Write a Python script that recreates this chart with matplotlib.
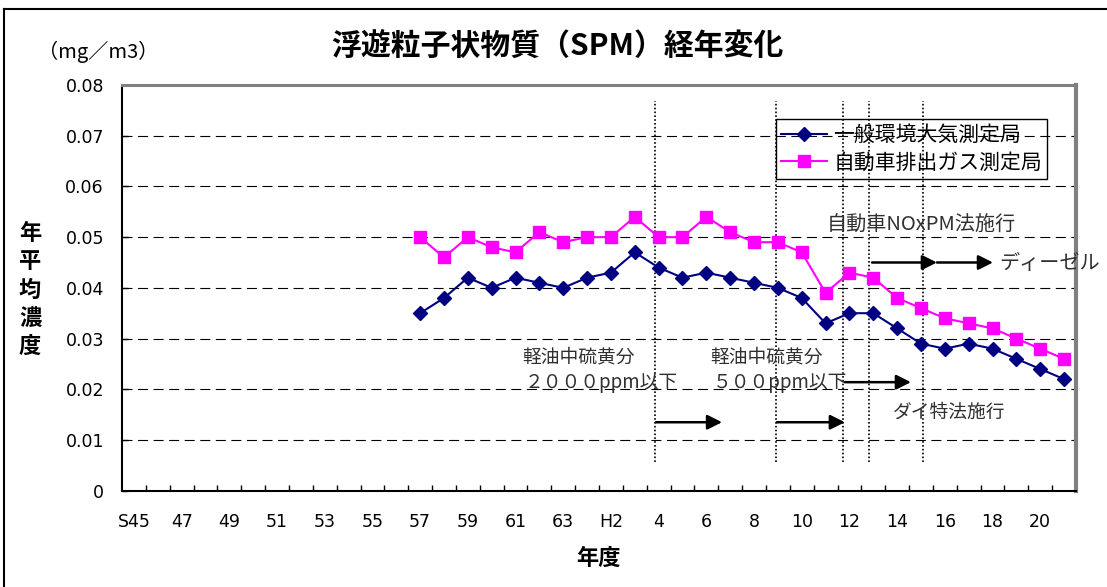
import numpy as np
import matplotlib
matplotlib.use('Agg')
import matplotlib.pyplot as plt
from matplotlib.lines import Line2D

plt.rcParams['font.family'] = ['Noto Sans CJK JP', 'DejaVu Sans']

# 年度 S45..S63, H1..H21
years = ['S%d' % y for y in range(45, 64)] + ['H%d' % y for y in range(1, 22)]
tick_labels = ['S45', '47', '49', '51', '53', '55', '57', '59', '61', '63',
               'H2', '4', '6', '8', '10', '12', '14', '16', '18', '20']

# 一般環境大気測定局 (S57 から)
ippan = [0.035, 0.038, 0.042, 0.040, 0.042, 0.041, 0.040, 0.042, 0.043, 0.047,
         0.044, 0.042, 0.043, 0.042, 0.041, 0.040, 0.038, 0.033, 0.035, 0.035,
         0.032, 0.029, 0.028, 0.029, 0.028, 0.026, 0.024, 0.022]
# 自動車排出ガス測定局 (S57 から)
jidosha = [0.050, 0.046, 0.050, 0.048, 0.047, 0.051, 0.049, 0.050, 0.050, 0.054,
           0.050, 0.050, 0.054, 0.051, 0.049, 0.049, 0.047, 0.039, 0.043, 0.042,
           0.038, 0.036, 0.034, 0.033, 0.032, 0.030, 0.028, 0.026]
start = years.index('S57')

# 規制の年 (点線)
reg_x = [21.86, 26.91, 29.72, 30.83, 33.07]

W, H = 1107, 587
fig = plt.figure(figsize=(W / 100, H / 100), dpi=100)
ax = fig.add_axes([122 / W, 1 - 490.7 / H, (1076 - 122) / W, (490.7 - 85) / H])

x = np.arange(len(years))
xs = x[start:]
ax.plot(xs, ippan, color='#000080', marker='D', markersize=7.5, lw=1.5,
        label='一般環境大気測定局', zorder=5)
ax.plot(xs, jidosha, color='#FF00FF', marker='s', markersize=8, lw=1.5,
        label='自動車排出ガス測定局', zorder=5)

ax.set_xlim(-0.5, len(years) - 0.5)
ax.set_ylim(0, 0.08)

# grid
for yv in np.arange(0.01, 0.075, 0.01):
    ax.axhline(yv, color='black', lw=0.8, dashes=(9, 5), zorder=1)

ax.vlines(reg_x, 0.0057, 0.0769, color='black', lw=1.2,
          linestyles=(0, (1, 1.3)), zorder=2)

# ticks
ax.set_xticks(np.arange(0, len(years), 2))
ax.set_xticklabels(tick_labels)
ax.set_xticks(np.arange(0.5, len(years) - 0.5, 1), minor=True)
ax.tick_params(axis='x', which='major', length=0, pad=16, labelsize=12.5)
ax.tick_params(axis='x', which='minor', direction='in', length=4.5, width=1)
ax.set_yticks(np.arange(0, 0.081, 0.01))
ax.set_yticklabels(['0'] + ['%.2f' % v for v in np.arange(0.01, 0.081, 0.01)])
ax.tick_params(axis='y', direction='in', length=4.5, width=1, pad=13, labelsize=12.5)
for lab in ax.get_xticklabels() + ax.get_yticklabels():
    lab.set_family(['DejaVu Sans'])

ax.spines['left'].set_linewidth(1.5)
ax.spines['bottom'].set_linewidth(1.5)
ax.spines['top'].set_color('#808080')
ax.spines['top'].set_linewidth(2.2)
ax.spines['right'].set_color('#808080')
ax.spines['right'].set_linewidth(3)

# arrows
arrows = [(21.89, 24.66, 0.0135), (26.96, 29.81, 0.0135), (29.81, 32.58, 0.0214),
          (30.95, 33.67, 0.0450), (33.67, 36.02, 0.0450)]
for x0, x1, yv in arrows:
    ax.annotate('', xy=(x1, yv), xytext=(x0, yv),
                arrowprops=dict(arrowstyle='-|>', color='black', lw=1.8,
                                mutation_scale=22, shrinkA=0, shrinkB=0))

tc = '#303030'
tf = 13.5
ax.text(16.27, 0.0263, '軽油中硫黄分', fontsize=tf, color=tc, va='center')
ax.text(16.40, 0.0214, '２０００ppm以下', fontsize=tf, color=tc, va='center')
ax.text(24.15, 0.0263, '軽油中硫黄分', fontsize=tf, color=tc, va='center')
ax.text(24.28, 0.0214, '５００ppm以下', fontsize=tf, color=tc, va='center')
ax.text(31.83, 0.0155, 'ダイ特法施行', fontsize=tf, color=tc, va='center')
ax.text(29.06, 0.0524, '自動車NOxPM法施行', fontsize=14.5, color=tc, va='center')
ax.text(36.3, 0.0449, 'ディーゼル', fontsize=14.5, color=tc, va='center', clip_on=False)

leg = ax.legend(loc='upper left', bbox_to_anchor=(776 / W, 1 - 119 / H),
                bbox_transform=fig.transFigure, fontsize=15, frameon=True,
                fancybox=False, framealpha=1, facecolor='none', edgecolor='black',
                handlelength=2.2, handletextpad=0.3, labelspacing=0.25,
                borderpad=0.25, borderaxespad=0)
leg.get_frame().set_linewidth(1)

fig.text(557 / W, 1 - 47 / H, '浮遊粒子状物質（SPM）経年変化', fontsize=21.5,
         fontweight='bold', ha='center', va='center')
fig.text(38 / W, 1 - 52 / H, '（mg／m3）', fontsize=14.5, ha='left', va='center')
fig.text(30 / W, 1 - 290 / H, '\n'.join('年平均濃度'), fontsize=16,
         fontweight='bold', ha='center', va='center', linespacing=1.3)
fig.text(598 / W, 1 - 558 / H, '年度', fontsize=16, fontweight='bold',
         ha='center', va='center')

# figure frame
fig.add_artist(Line2D([4 / W, 1], [1 - 9 / H, 1 - 9 / H], color='black', lw=1.5,
                      transform=fig.transFigure))
fig.add_artist(Line2D([4 / W, 4 / W], [0, 1 - 9 / H], color='black', lw=1.5,
                      transform=fig.transFigure))

fig.savefig('out.png', dpi=100)
